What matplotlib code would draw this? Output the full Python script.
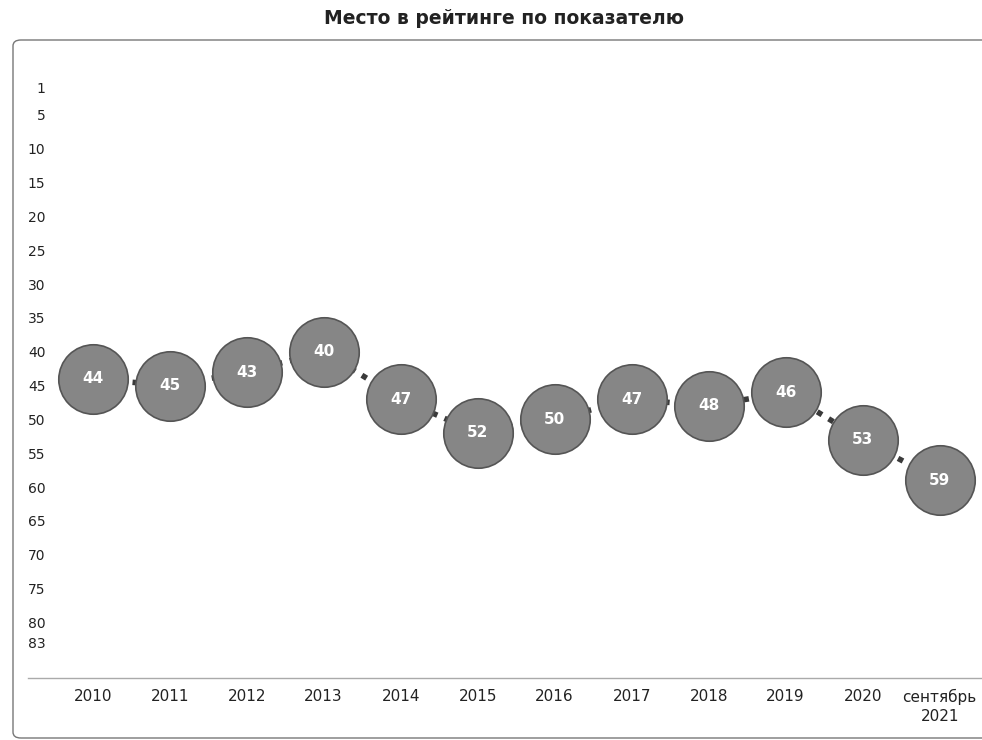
"""
Место в рейтинге по показателю
- rank by year, inverted axis
"""

import matplotlib
matplotlib.use("Agg")
import matplotlib.pyplot as plt
from matplotlib.patches import FancyBboxPatch


# ======================================================
# DATA
# ======================================================

years = ["2010", "2011", "2012", "2013", "2014", "2015", "2016",
         "2017", "2018", "2019", "2020", "сентябрь\n2021"]
ranks = [44, 45, 43, 40, 47, 52, 50, 47, 48, 46, 53, 59]
ytick_values = [1, 5, 10, 15, 20, 25, 30, 35, 40, 45, 50, 55,
                60, 65, 70, 75, 80, 83]

title = "Место в рейтинге по показателю"


# ======================================================
# PLOT
# ======================================================

plt.rcParams["font.family"] = ["DejaVu Sans"]

fig = plt.figure(figsize=(9.82, 7.40), dpi=100)

# рамка вокруг графика
frame = FancyBboxPatch((13 / 982, 2 / 740), 1.2, 698 / 740,
                       boxstyle="round,pad=0,rounding_size=0.008",
                       transform=fig.transFigure, fill=False,
                       edgecolor="#777777", linewidth=1.0)
fig.patches.append(frame)

fig.text(0.513, 1 - 18 / 740, title, ha="center", va="center",
         fontsize=13.5, fontweight="bold", color="#222222")

ax = fig.add_axes([28 / 982, 1 - 678 / 740, 1 - 28 / 982, (678 - 60) / 740])

x = list(range(len(years)))

ax.plot(x, ranks, linestyle=(0, (1.0, 1.4)), color="#3a3a3a",
        linewidth=4, zorder=1)
ax.plot(x, ranks, linestyle="none", marker="o", markersize=50,
        markerfacecolor="#868686", markeredgecolor="#555555",
        markeredgewidth=1.2, zorder=2)

for xi, r in zip(x, ranks):
    ax.text(xi, r, str(r), ha="center", va="center", color="white",
            fontsize=11, fontweight="bold", zorder=3)

ax.set_xlim(-0.84, 11.55)
ax.set_ylim(88.2, -3.1)

ax.set_xticks(x)
ax.set_xticklabels(years, fontsize=11, color="#222222", linespacing=1.3)
ax.set_yticks(ytick_values)
ax.set_yticklabels([str(v) for v in ytick_values], fontsize=10,
                   color="#222222")

ax.tick_params(axis="x", length=0, pad=8)
ax.tick_params(axis="y", length=0, pad=-12.5)

for side in ["top", "right", "left"]:
    ax.spines[side].set_visible(False)
ax.spines["bottom"].set_color("#aaaaaa")
ax.spines["bottom"].set_linewidth(1.0)

ax.patch.set_alpha(0)

plt.savefig("out.png", dpi=100)
plt.close()
